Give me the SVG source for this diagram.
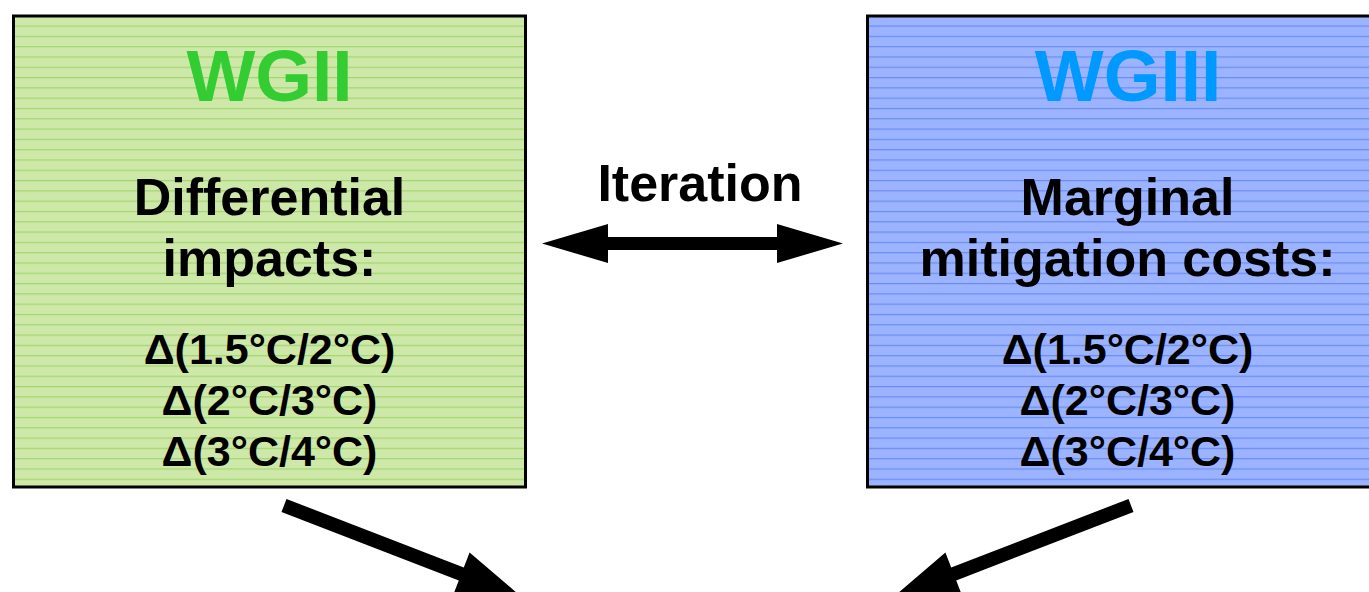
<svg xmlns="http://www.w3.org/2000/svg" width="1369" height="592" viewBox="0 0 1369 592">
  <defs>
    <pattern id="stripeGreen" patternUnits="userSpaceOnUse" x="0" y="25.5" width="20" height="10.3">
      <rect x="0" y="0" width="20" height="10.3" fill="#cde8a8"/>
      <rect x="0" y="0" width="20" height="1.2" fill="#a3d66e"/>
    </pattern>
    <pattern id="stripeBlue" patternUnits="userSpaceOnUse" x="0" y="25.5" width="20" height="10.3">
      <rect x="0" y="0" width="20" height="10.3" fill="#9cb4ff"/>
      <rect x="0" y="0" width="20" height="1.2" fill="#6a8cf2"/>
    </pattern>
  </defs>
  <style>
    .box { stroke: #000000; stroke-width: 3; }
    .t { font-family: "Liberation Sans", Arial, sans-serif; font-weight: bold; text-anchor: middle; fill: #000000; }
    .title { font-size: 73px; }
    .head { font-size: 52px; }
    .delta { font-size: 43px; }
    .arrow { fill: #000000; }
  </style>
  <rect width="1369" height="592" fill="#ffffff"/>

  <g id="wg2">
    <rect class="box" x="13.5" y="16" width="512" height="471" fill="url(#stripeGreen)"/>
    <text class="t title" x="269.5" y="101" style="fill:#33cc33">WGII</text>
    <text class="t head" x="269.5" y="215">Differential</text>
    <text class="t head" x="269.5" y="276">impacts:</text>
    <text class="t delta" x="269.5" y="363.5">Δ(1.5°C/2°C)</text>
    <text class="t delta" x="269.5" y="414.5">Δ(2°C/3°C)</text>
    <text class="t delta" x="269.5" y="465.5">Δ(3°C/4°C)</text>
  </g>

  <g id="wg3">
    <rect class="box" x="867.5" y="16" width="520" height="471" fill="url(#stripeBlue)"/>
    <text class="t title" x="1128" y="101" style="fill:#0099ff">WGIII</text>
    <text class="t head" x="1127.5" y="215">Marginal</text>
    <text class="t head" x="1127.5" y="276">mitigation costs:</text>
    <text class="t delta" x="1127.5" y="363.5">Δ(1.5°C/2°C)</text>
    <text class="t delta" x="1127.5" y="414.5">Δ(2°C/3°C)</text>
    <text class="t delta" x="1127.5" y="465.5">Δ(3°C/4°C)</text>
  </g>

  <g id="connectors">
    <text class="t head" x="700" y="201">Iteration</text>
    <polygon class="arrow" points="542,243.5 608,224 608,237 777,237 777,224 843,243.5 777,263 777,250 608,250 608,263"/>
    <polygon class="arrow" points="286.5,499 463.8,567.4 469.6,552.4 521.9,597.3 453,595.4 458.8,580.4 281.5,512"/>
    <polygon class="arrow" points="1128.5,499 951.2,567.4 945.4,552.4 893.1,597.3 962,595.4 956.2,580.4 1133.5,512"/>
  </g>
</svg>
